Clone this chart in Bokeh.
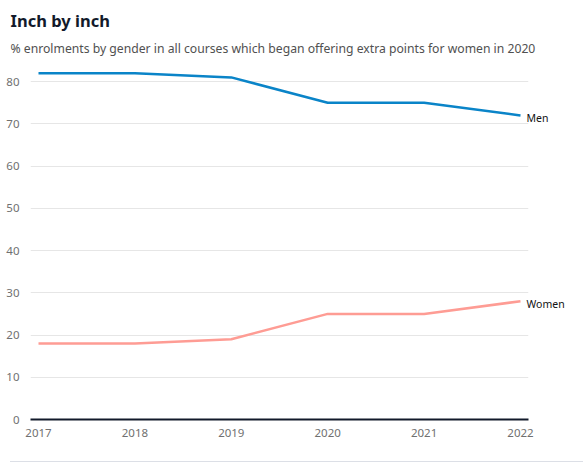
from bokeh.plotting import figure
from bokeh.models import Range1d, FixedTicker, LinearAxis, Title, Div
from bokeh.layouts import column
from bokeh.embed import file_html
from bokeh.resources import INLINE

years = [2017, 2018, 2019, 2020, 2021, 2022]
men = [82, 82, 81, 75, 75, 72]
women = [18, 18, 19, 25, 25, 28]
y_ticks = [0, 10, 20, 30, 40, 50, 60, 70, 80]
series_names = ["Men", "Women"]

FONT = "Noto Sans"
TITLE = "Inch by inch"
SUBTITLE = "% enrolments by gender in all courses which began offering extra points for women in 2020"

p = figure(width=583, height=458, output_backend="svg", toolbar_location=None,
           x_range=Range1d(2016.917, 2022.083), y_range=Range1d(0, 85),
           min_border_left=30, min_border_right=55, min_border_top=60, min_border_bottom=39,
           title=TITLE)
p.outline_line_color = None
p.background_fill_color = "white"

p.title.text_font = FONT
p.title.text_font_size = "16.5px"
p.title.text_font_style = "bold"
p.title.text_color = "#121a2b"
p.title.offset = -20
p.title.standoff = 5

p.add_layout(Title(text=SUBTITLE, text_font=FONT, text_font_size="12.2px", text_font_style="normal",
                   text_color="#505050", offset=-20, standoff=7), "above")

p.line(years, men, line_color="#0a84c8", line_width=2.5)
p.line(years, women, line_color="#fe9c94", line_width=2.5)

p.xgrid.grid_line_color = None
p.ygrid.grid_line_color = "#e6e6e6"
p.ygrid.ticker = FixedTicker(ticks=y_ticks)

p.yaxis.ticker = FixedTicker(ticks=y_ticks)
p.yaxis.axis_line_color = None
p.yaxis.major_tick_line_color = None
p.yaxis.minor_tick_line_color = None
p.yaxis.major_label_text_font = FONT
p.yaxis.major_label_text_font_size = "11.5px"
p.yaxis.major_label_text_color = "#707070"
p.yaxis.major_label_standoff = 5

p.xaxis.ticker = FixedTicker(ticks=years)
p.xaxis.axis_line_color = "#121a2b"
p.xaxis.axis_line_width = 2
p.xaxis.major_tick_line_color = None
p.xaxis.minor_tick_line_color = None
p.xaxis.major_label_text_font = FONT
p.xaxis.major_label_text_font_size = "11.5px"
p.xaxis.major_label_text_color = "#707070"
p.xaxis.major_label_standoff = 3

# End-of-line series labels via a right axis (range nudged so labels sit just below line ends)
p.extra_y_ranges = {"labels": Range1d(0.7, 85.7)}
right = LinearAxis(y_range_name="labels", ticker=FixedTicker(ticks=[men[-1], women[-1]]),
                   major_label_overrides={men[-1]: series_names[0], women[-1]: series_names[1]})
right.axis_line_color = None
right.major_tick_line_color = None
right.minor_tick_line_color = None
right.major_label_standoff = -8
right.major_label_text_font = FONT
right.major_label_text_font_size = "10.5px"
right.major_label_text_color = "#121212"
p.add_layout(right, "right")

rule = Div(text="", width=573, height=1, margin=(3, 0, 0, 10),
           styles={"border-top": "1px solid #dcdfe6"})

layout = column(p, rule, spacing=0)
open("out.html", "w").write(file_html(layout, INLINE))
